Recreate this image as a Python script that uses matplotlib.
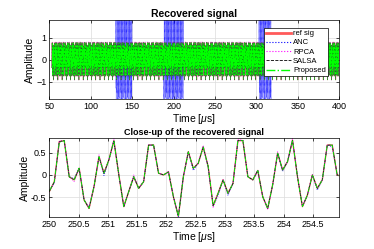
import numpy as np
import matplotlib
matplotlib.use("Agg")
import matplotlib.pyplot as plt

plt.rcParams['font.family'] = ['Liberation Sans', 'DejaVu Sans']
plt.rcParams['mathtext.fontset'] = 'custom'
plt.rcParams['mathtext.it'] = 'Liberation Sans:italic'

# close-up of the reference signal, 250..255 us
ref_zoom = [-0.37, -0.15, 0.75, 0.77, -0.04, -0.11, 0.15, -0.56, -0.75, -0.26,
            0.41, 0.04, 0.34, 0.77, 0.00, -0.71, -0.37, -0.04, -0.30, -0.15,
            0.67, 0.67, 0.04, 0.00, 0.07, -0.49, -0.93, -0.04, 0.52, 0.15,
            0.26, 0.63, 0.19, -0.69, -0.41, -0.11, -0.41, -0.19, 0.77, 0.77,
            -0.04, -0.11, 0.10, -0.49, -0.75, -0.22, 0.49, 0.11, 0.30, 0.78,
            -0.04, -0.71, -0.45, 0.00, -0.30, -0.11, 0.67, 0.67, 0.00, -0.04]
# small deviations of each method from the reference
anc_dev = [0.02, -0.03, 0, 0, 0, 0.03, 0, 0, 0.02, 0,
           0, -0.05, 0, 0, 0, 0, 0, 0, 0, 0,
           0, 0, 0, 0, 0, 0, 0, 0, 0, -0.05,
           0, 0, -0.03, 0, -0.05, 0, -0.05, 0, 0, 0,
           0, 0, 0, 0, 0, 0, 0, -0.03, 0, 0,
           0, 0, 0, 0, -0.04, 0, 0, -0.04, 0, 0]
rpca_dev = [0, 0, 0, 0, 0, -0.04, 0, 0, 0.03, 0,
            0.04, 0, 0, 0.04, 0, 0, 0, 0.04, 0, 0,
            0, 0, 0, 0, 0, 0, 0, 0, 0, 0,
            0, 0.03, 0, -0.05, 0, 0, 0, 0, 0.04, 0,
            0, 0, 0, 0, -0.03, 0, 0.03, 0, 0, 0.04,
            0, 0, 0, 0, 0, 0, 0, 0, 0, 0]
salsa_dev = [0] * 60
prop_dev = [0.01, 0, -0.02, 0, 0, 0, 0, 0, 0, 0,
            0, 0, 0, 0, 0, 0, 0, 0, 0, 0,
            0, 0, 0, 0, 0, 0, 0, 0, 0, 0,
            0, 0, 0, 0, 0, 0, 0, 0, 0, 0,
            0, 0, 0, 0, 0, 0, 0, 0, 0, 0,
            0, 0, 0, 0, 0, 0, 0, 0, 0, 0]

# ANC interference bursts in the full record (us)
burst_start = [130, 188, 303]
burst_end = [150, 212, 318]
burst_gain = 5.0

names = ['ref sig', 'ANC', 'RPCA', 'SALSA', 'Proposed']
colors = ['#ff5a5a', '#0000ff', '#ff00ff', '#000000', '#00ff00']
styles = ['-', ':', ':', '--', '-.']
widths = [1.0, 0.6, 0.6, 0.5, 0.6]

dt = 5.0 / 59
tz = 250 + dt * np.arange(60)
ref_z = np.array(ref_zoom)
series_z = [ref_z, ref_z + anc_dev, ref_z + rpca_dev, ref_z + salsa_dev, ref_z + prop_dev]

# full record built by repeating the close-up samples
tf = 53 + dt * np.arange(int(347 / dt) + 1)
reps = len(tf) // 60 + 1
series_f = [np.tile(s, reps)[:len(tf)] for s in series_z]
anc_f = series_f[1].copy()
for a, b in zip(burst_start, burst_end):
    m = (tf >= a) & (tf <= b)
    anc_f[m] = anc_f[m] * burst_gain
series_f[1] = anc_f

fig = plt.figure(figsize=(3.74, 2.49), dpi=100)
ax1 = fig.add_axes([0.132, 0.602, 0.775, 0.317])
ax2 = fig.add_axes([0.132, 0.129, 0.775, 0.317])

for s, n, c, ls, lw in zip(series_f, names, colors, styles, widths):
    ax1.plot(tf, s, ls, color=c, lw=lw * 0.4, label=n)
for s, n, c, ls, lw in zip(series_z, names, colors, styles, widths):
    ax2.plot(tz, s, ls, color=c, lw=lw)

ax1.set_xlim(50, 400)
ax1.set_ylim(-1.8, 1.8)
ax1.set_xticks(range(50, 401, 50))
ax1.set_yticks([-1, 0, 1])
ax1.set_title('Recovered signal', fontsize=7.5, fontweight='bold', pad=2)
ax1.set_xlabel(r'Time [$\mu$s]', fontsize=7.5, labelpad=1)
ax1.set_ylabel('Amplitude', fontsize=7.5, labelpad=1)

handles = [plt.Line2D([], [], ls=ls, color=c, lw=w) for c, ls, w in zip(colors, styles, [2.0, 0.8, 0.8, 0.6, 1.0])]
leg = ax1.legend(handles, names, loc='upper right', fontsize=5.5, frameon=True, fancybox=False,
                 edgecolor='black', framealpha=1, borderpad=0.3, labelspacing=0.25,
                 handlelength=3.3, handletextpad=0.2, bbox_to_anchor=(0.975, 0.955))
leg.get_frame().set_linewidth(0.5)

ax2.set_xlim(250, 254.95)
ax2.set_ylim(-0.94, 0.83)
ax2.set_xticks(np.arange(250, 254.6, 0.5))
ax2.set_xticklabels(['250', '250.5', '251', '251.5', '252', '252.5', '253', '253.5', '254', '254.5'])
ax2.set_yticks([-0.5, 0, 0.5])
ax2.set_yticklabels(['-0.5', '0', '0.5'])
ax2.set_title('Close-up of the recovered signal', fontsize=6.5, fontweight='bold', pad=2)
ax2.set_xlabel(r'Time [$\mu$s]', fontsize=7.5, labelpad=1)
ax2.set_ylabel('Amplitude', fontsize=7.5, labelpad=1)

for ax in (ax1, ax2):
    ax.grid(True, color='#dcdcdc', lw=0.5)
    ax.set_axisbelow(True)
    ax.tick_params(direction='in', labelsize=6.5, length=2, width=0.5, pad=2, top=True, right=True)
    for sp in ax.spines.values():
        sp.set_linewidth(0.5)

fig.savefig('out.png', dpi=100)
